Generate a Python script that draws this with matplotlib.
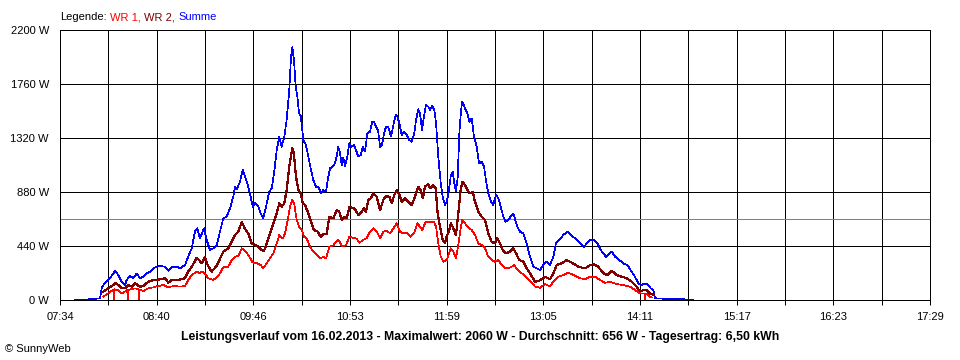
import matplotlib
matplotlib.use("Agg")
import matplotlib.pyplot as plt

# ---- data (time in minutes after midnight, power in W) ----
t_start, t_end = 454, 1049  # 07:34 .. 17:29
tick_labels = ["07:34", "", "08:40", "", "09:46", "", "10:53", "", "11:59", "",
               "13:05", "", "14:11", "", "15:17", "", "16:23", "", "17:29"]
y_ticks = [0, 440, 880, 1320, 1760, 2200]
avg_w = 656

sum_t = [464.3, 473.1, 477.9, 481.4, 482.5, 483.6, 484.8, 488.2, 490.5, 491.6, 493.9, 496.2,
         498.5, 499.6, 501.9, 504.1, 506.5, 508.7, 511.0, 513.3, 515.6, 519.0, 522.4, 525.8,
         528.1, 530.4, 533.8, 536.1, 539.5, 541.7, 544.1, 546.3, 547.9, 549.7, 552.5, 554.3,
         556.6, 558.8, 561.2, 563.4, 565.7, 568.0, 570.3, 572.5, 573.7, 574.8, 577.1, 579.0,
         580.5, 582.1, 583.9, 585.8, 587.4, 589.6, 591.3, 593.0, 594.9, 597.1, 598.8, 600.4,
         602.2, 604.0, 605.6, 607.4, 609.0, 610.8, 612.0, 612.9, 614.0, 615.2, 616.3, 617.5,
         618.6, 619.5, 620.4, 622.2, 623.8, 625.7, 627.2, 629.1, 630.7, 632.5, 634.1, 635.9,
         637.5, 638.7, 640.5, 642.1, 643.2, 644.3, 645.5, 646.7, 647.8, 648.9, 650.5, 651.9,
         653.5, 655.1, 656.4, 658.0, 659.7, 661.0, 662.6, 664.2, 666.0, 667.6, 668.8, 670.1,
         671.5, 672.9, 674.2, 675.6, 677.0, 678.5, 680.4, 682.0, 683.6, 684.7, 686.1, 687.7,
         689.3, 691.1, 692.9, 694.5, 696.1, 697.5, 699.0, 700.2, 701.6, 702.9, 704.3, 705.9,
         707.0, 708.6, 710.0, 711.2, 712.7, 714.4, 715.7, 717.3, 718.5, 719.6, 721.2, 722.6,
         723.7, 724.8, 726.0, 727.1, 728.3, 729.1, 731.0, 732.6, 733.9, 735.6, 737.1, 739.0,
         740.6, 742.4, 744.0, 745.3, 746.9, 748.8, 750.3, 752.2, 753.8, 755.4, 757.2, 758.8,
         760.6, 762.2, 764.0, 765.4, 766.8, 768.6, 770.9, 773.2, 775.4, 777.7, 780.0, 782.3,
         784.5, 786.9, 789.1, 791.4, 793.2, 795.5, 798.2, 801.0, 803.3, 806.2, 809.6, 812.4,
         814.4, 816.5, 819.2, 821.5, 824.5, 827.4, 829.0, 831.3, 833.6, 836.5, 839.2, 842.0,
         845.0, 847.2, 849.5, 851.8, 854.1, 856.3, 858.0, 859.8, 860.9, 867.8, 874.6, 881.4,
         886.9]
sum_w = [0, 5, 10, 13, 98, 120, 136, 177, 217, 236, 204, 149,
         122, 163, 195, 177, 217, 177, 190, 217, 231, 266, 277, 271,
         239, 271, 271, 258, 285, 353, 421, 557, 584, 503, 584, 489,
         407, 420, 448, 557, 666, 680, 747, 842, 923, 900, 964, 1059,
         1005, 951, 869, 760, 788, 760, 706, 666, 760, 883, 910, 1032,
         1222, 1331, 1249, 1331, 1467, 1711, 1982, 2060, 1956, 1738, 1657, 1521,
         1500, 1412, 1304, 1263, 1168, 1059, 978, 923, 923, 869, 896, 883,
         1005, 1073, 1086, 1114, 1168, 1249, 1195, 1100, 1160, 1092, 1168, 1277,
         1249, 1263, 1222, 1168, 1182, 1249, 1209, 1358, 1372, 1453, 1453, 1412,
         1385, 1249, 1263, 1358, 1412, 1412, 1331, 1426, 1507, 1494, 1440, 1345,
         1372, 1345, 1304, 1290, 1345, 1467, 1554, 1521, 1385, 1494, 1589, 1575,
         1548, 1581, 1548, 1440, 1168, 951, 842, 774, 801, 869, 1005, 1046,
         951, 883, 1000, 1358, 1548, 1616, 1562, 1521, 1453, 1480, 1331, 1249,
         1114, 1127, 1086, 978, 869, 801, 774, 856, 828, 760, 679, 638,
         652, 679, 706, 652, 597, 557, 543, 455, 353, 271, 258, 244,
         285, 312, 285, 353, 462, 489, 530, 557, 530, 503, 462, 434,
         462, 489, 489, 462, 394, 353, 367, 394, 353, 326, 299, 285,
         231, 190, 136, 122, 136, 122, 95, 81, 14, 10, 8, 5,
         3]

wr2_t = [482.5, 483.6, 487.0, 490.5, 491.6, 493.9, 496.2, 498.5, 500.7, 503.0, 505.3, 508.7,
         511.0, 514.4, 517.8, 522.4, 525.8, 528.1, 530.4, 534.9, 539.5, 541.7, 544.1, 547.5,
         549.1, 550.9, 553.2, 555.0, 557.7, 560.7, 563.0, 565.7, 569.1, 571.4, 573.7, 576.0,
         578.3, 580.5, 582.8, 585.1, 587.4, 589.6, 591.9, 593.5, 595.4, 597.6, 599.9, 602.2,
         604.0, 605.6, 607.4, 609.0, 610.8, 612.9, 614.0, 615.4, 617.0, 618.6, 620.0, 621.6,
         623.8, 625.7, 627.7, 630.0, 632.3, 634.6, 636.4, 638.2, 640.9, 643.2, 645.0, 646.7,
         648.2, 650.1, 651.9, 654.2, 655.8, 658.0, 660.3, 661.9, 663.3, 664.9, 666.5, 668.3,
         670.6, 672.9, 675.1, 677.0, 679.2, 680.9, 682.6, 684.3, 686.1, 687.7, 690.0, 692.2,
         694.5, 696.8, 699.0, 700.7, 702.1, 703.6, 705.9, 707.0, 709.3, 710.9, 712.3, 713.9,
         715.7, 717.3, 718.5, 720.0, 721.4, 723.0, 724.8, 726.4, 728.0, 729.1, 731.0, 732.6,
         734.4, 736.3, 737.8, 740.1, 742.4, 744.7, 746.9, 749.2, 751.5, 753.1, 754.9, 756.8,
         759.0, 761.8, 764.0, 765.9, 768.1, 770.9, 773.2, 775.4, 778.9, 782.3, 785.7, 789.1,
         791.4, 793.7, 797.1, 800.5, 804.0, 808.5, 813.1, 816.5, 819.2, 822.1, 825.6, 828.3,
         831.3, 834.7, 838.2, 841.6, 845.0, 848.4, 850.7, 852.9, 855.3, 857.5, 859.8]
wr2_w = [68, 68, 95, 122, 141, 122, 95, 95, 122, 109, 136, 109,
         114, 149, 163, 168, 177, 141, 163, 163, 177, 231, 271, 345,
         326, 299, 348, 285, 231, 271, 326, 394, 421, 475, 530, 557,
         638, 580, 540, 460, 450, 434, 407, 400, 462, 543, 625, 706,
         788, 760, 788, 896, 1086, 1236, 1190, 1005, 896, 870, 788, 775,
         706, 638, 570, 560, 516, 540, 540, 679, 665, 733, 720, 652,
         679, 665, 760, 750, 740, 693, 720, 747, 720, 815, 828, 869,
         842, 733, 815, 847, 842, 788, 856, 896, 856, 801, 828, 801,
         774, 842, 923, 896, 828, 923, 945, 910, 935, 910, 706, 597,
         489, 462, 520, 557, 625, 584, 530, 706, 896, 964, 937, 896,
         869, 883, 801, 720, 679, 652, 543, 475, 462, 503, 462, 407,
         380, 394, 421, 380, 326, 312, 258, 217, 149, 160, 190, 168,
         217, 285, 299, 326, 304, 271, 258, 285, 290, 271, 217, 204,
         239, 204, 190, 177, 149, 109, 68, 81, 81, 54, 41]

wr1_t = [483.6, 487.0, 488.9, 490.7, 490.9, 491.2, 493.9, 496.2, 498.5, 500.0, 500.3, 500.6,
         505.3, 507.7, 508.0, 508.4, 511.0, 514.4, 517.8, 521.2, 524.6, 528.1, 531.5, 536.1,
         539.5, 541.7, 544.1, 547.5, 549.3, 551.6, 553.2, 555.4, 558.8, 562.3, 565.7, 569.1,
         571.4, 573.7, 576.0, 578.3, 580.5, 582.8, 585.8, 588.5, 591.3, 593.0, 595.4, 597.6,
         599.9, 602.2, 604.0, 606.3, 607.9, 609.5, 611.3, 612.9, 614.2, 615.9, 617.5, 619.3,
         620.9, 622.7, 625.0, 627.2, 629.6, 631.8, 634.1, 635.9, 638.2, 640.9, 644.3, 646.7,
         649.6, 651.9, 654.6, 656.9, 658.7, 661.4, 663.8, 666.0, 668.3, 670.6, 672.9, 675.1,
         677.4, 679.7, 682.0, 684.3, 686.5, 688.8, 691.1, 693.8, 696.1, 698.4, 700.2, 701.8,
         704.1, 707.0, 709.8, 711.2, 712.7, 714.4, 716.1, 718.5, 720.0, 721.4, 723.0, 724.8,
         726.4, 728.0, 729.1, 731.0, 732.6, 735.6, 737.8, 740.1, 742.4, 744.7, 746.9, 749.2,
         751.5, 753.8, 756.1, 759.0, 762.2, 764.5, 766.8, 769.8, 772.7, 775.0, 778.9, 782.3,
         785.7, 789.1, 791.4, 794.8, 798.2, 801.6, 805.1, 809.6, 813.1, 816.5, 819.9, 823.3,
         826.7, 830.2, 834.7, 839.2, 843.8, 847.2, 850.7, 852.7, 853.7, 854.1, 854.4, 855.3,
         857.5, 858.9]
wr1_w = [27, 54, 70, 87, 0, 87, 80, 54, 70, 81, 0, 81,
         95, 90, 0, 85, 73, 95, 103, 114, 122, 103, 114, 109,
         114, 163, 204, 231, 220, 231, 215, 177, 163, 195, 266, 272,
         326, 353, 360, 421, 400, 367, 305, 300, 285, 258, 300, 339,
         380, 462, 530, 500, 543, 638, 760, 820, 780, 652, 597, 570,
         516, 500, 434, 394, 370, 339, 350, 339, 434, 445, 494, 440,
         445, 516, 505, 500, 467, 490, 505, 557, 584, 557, 503, 557,
         565, 543, 584, 625, 557, 543, 550, 516, 543, 625, 597, 570,
         638, 638, 638, 597, 462, 353, 312, 326, 380, 421, 394, 339,
         450, 584, 652, 625, 597, 570, 530, 462, 448, 421, 353, 326,
         312, 326, 285, 258, 265, 285, 250, 217, 190, 163, 109, 100,
         130, 109, 150, 190, 204, 222, 204, 177, 170, 190, 190, 163,
         140, 149, 130, 122, 109, 81, 54, 54, 54, 0, 50, 50,
         27, 20]

# ---- figure ----
plt.rcParams['font.family'] = ['Liberation Sans', 'DejaVu Sans']
fig = plt.figure(figsize=(9.6, 3.6), dpi=100)
ax = fig.add_axes([60 / 960, 60 / 360, 870 / 960, 270 / 360])

ax.plot(sum_t, sum_w, color="#0000FF", lw=0.5, antialiased=False, zorder=3)
ax.plot(wr2_t, wr2_w, color="#800000", lw=0.85, antialiased=False, zorder=4)
ax.plot(wr1_t, wr1_w, color="#FF0000", lw=0.5, antialiased=False, zorder=5)
ax.axhline(avg_w, color="#808080", lw=0.72, antialiased=False, zorder=2)

step = (t_end - t_start) / (len(tick_labels) - 1)
xt = [t_start + i * step for i in range(len(tick_labels))]
ax.set_xlim(t_start, t_end)
ax.set_ylim(0, 2200)
ax.set_xticks(xt)
ax.set_xticklabels(tick_labels, fontsize=8)
ax.set_yticks(y_ticks)
ax.set_yticklabels([f"{v} W" for v in y_ticks], fontsize=8)
ax.tick_params(axis='x', length=3.6, width=0.72, color='black', pad=5)
ax.tick_params(axis='y', length=0, pad=8)
ax.grid(True, color='black', lw=0.72, antialiased=False)
for s in ax.spines.values():
    s.set_color('black')
    s.set_linewidth(0.72)
    s.set_antialiased(False)

# legend line at top
t0 = fig.text(60 / 960, 1 - 17 / 360, "Legende:", fontsize=8, color="black", va="center", ha="left")
a1 = ax.annotate("WR 1,", xy=(1, 0.5), xycoords=t0, xytext=(2.5, 0), textcoords="offset points",
                 fontsize=8, color="#FF0000", va="center", ha="left", annotation_clip=False)
a2 = ax.annotate("WR 2,", xy=(1, 0.5), xycoords=a1, xytext=(2.5, 0), textcoords="offset points",
                 fontsize=8, color="#800000", va="center", ha="left", annotation_clip=False)
a3 = ax.annotate("Summe", xy=(1, 0.5), xycoords=a2, xytext=(2.5, 0), textcoords="offset points",
                 fontsize=8, color="#0000FF", va="center", ha="left", annotation_clip=False)

fig.text(480 / 960, 1 - 337 / 360,
         "Leistungsverlauf vom 16.02.2013 - Maximalwert: 2060 W - Durchschnitt: 656 W - Tagesertrag: 6,50 kWh",
         fontsize=8.8, fontweight="bold", ha="center", va="center")
fig.text(5 / 960, 1 - 349 / 360, "© SunnyWeb", fontsize=8, ha="left", va="center")

fig.savefig("out.png", dpi=100)
